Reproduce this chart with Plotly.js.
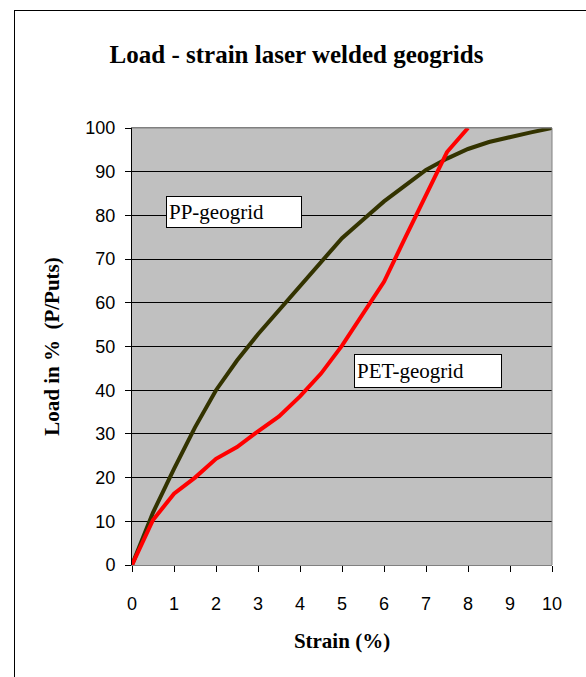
<!DOCTYPE html>
<html>
<head>
<meta charset="utf-8">
<script src="https://cdn.plot.ly/plotly-3.0.1.min.js"></script>
<style>
html,body{margin:0;padding:0;background:#fff;overflow:hidden;}
#frame{position:absolute;left:14px;top:10px;width:700px;height:800px;border-left:1px solid #000;border-top:1px solid #000;box-sizing:border-box;pointer-events:none;z-index:5;}
#chart{position:absolute;left:0;top:0;width:586px;height:677px;}
</style>
</head>
<body>
<div id="chart"></div>
<div id="frame"></div>
<script>
const strain = [0, 0.5, 1, 1.5, 2, 2.5, 3, 3.5, 4, 4.5, 5, 5.5, 6, 6.5, 7, 7.5, 8, 8.5, 9, 9.5, 10];
const ppLoad = [0, 12, 22, 31.5, 40, 46.8, 52.8, 58.3, 63.8, 69.5, 74.8, 79, 83.2, 86.8, 90.4, 93, 95.2, 96.8, 98, 99, 100];
const petStrain = [0, 0.5, 1, 1.5, 2, 2.5, 3, 3.5, 4, 4.5, 5, 5.5, 6, 6.5, 7, 7.5, 8];
const petLoad = [0, 10.3, 16.3, 20, 24.3, 27, 30.6, 34, 38.6, 43.8, 50.2, 57.5, 64.8, 74.8, 84.5, 94.5, 100];
const xTicks = [0, 1, 2, 3, 4, 5, 6, 7, 8, 9, 10];
const yTicks = [0, 10, 20, 30, 40, 50, 60, 70, 80, 90, 100];
const labels = ["PP-geogrid", "PET-geogrid"];

const serif = 'Liberation Serif, Times New Roman, serif';
const sans = 'Liberation Sans, Arial, sans-serif';

const traces = [
  {x: strain, y: ppLoad, mode: 'lines', name: labels[0], line: {color: '#333300', width: 4}},
  {x: petStrain, y: petLoad, mode: 'lines', name: labels[1], line: {color: '#ff0000', width: 4}}
];

const layout = {
  width: 586, height: 677,
  margin: {l: 132, r: 34, t: 128, b: 112},
  paper_bgcolor: '#ffffff',
  plot_bgcolor: '#c0c0c0',
  showlegend: false,
  title: {
    text: '<b>Load - strain laser welded geogrids</b>',
    font: {family: serif, size: 25, color: '#000'},
    x: 0.506, xref: 'container', xanchor: 'center', y: 0.9196, yref: 'container', yanchor: 'middle'
  },
  xaxis: {
    range: [0, 10], tickvals: xTicks, ticktext: xTicks.map(String),
    showgrid: false, zeroline: false,
    showline: true, linecolor: '#808080', linewidth: 1, mirror: true,
    ticks: 'outside', ticklen: 6, tickcolor: '#000', tickwidth: 1,
    ticklabelstandoff: 16,
    tickfont: {family: sans, size: 18, color: '#000'},
    title: {text: '<b>Strain (%)</b>', font: {family: serif, size: 21, color: '#000'}, standoff: 20},
    fixedrange: true
  },
  yaxis: {
    range: [0, 100], tickvals: yTicks, ticktext: yTicks.map(String),
    showgrid: true, gridcolor: '#000', gridwidth: 1, zeroline: false,
    showline: true, linecolor: '#000', linewidth: 1,
    ticks: 'outside', ticklen: 6, tickcolor: '#000', tickwidth: 1,
    ticklabelstandoff: 6,
    tickfont: {family: sans, size: 18, color: '#000'},
    title: {text: '<b>Load in %\u00a0 (P/Puts)</b>', font: {family: serif, size: 21, color: '#000'}, standoff: 20},
    fixedrange: true
  },
  shapes: [
    {type: 'line', xref: 'paper', yref: 'paper', x0: 1, x1: 1, y0: 0, y1: 1, line: {color: '#808080', width: 1}},
    {type: 'line', xref: 'paper', yref: 'paper', x0: 0, x1: 1, y0: 1, y1: 1, line: {color: '#808080', width: 1}}
  ],
  annotations: [
    {x: 0.81, y: 84.4, xref: 'x', yref: 'y', xanchor: 'left', yanchor: 'top', text: labels[0], showarrow: false,
     align: 'left', width: 130, height: 26, bgcolor: '#ffffff', bordercolor: '#000', borderwidth: 1, borderpad: 2,
     font: {family: serif, size: 21, color: '#000'}},
    {x: 5.29, y: 48.3, xref: 'x', yref: 'y', xanchor: 'left', yanchor: 'top', text: labels[1], showarrow: false,
     align: 'left', width: 142, height: 28, bgcolor: '#ffffff', bordercolor: '#000', borderwidth: 1, borderpad: 2,
     font: {family: serif, size: 21, color: '#000'}}
  ]
};

Plotly.newPlot('chart', traces, layout, {displayModeBar: false, staticPlot: true});
</script>
</body>
</html>
